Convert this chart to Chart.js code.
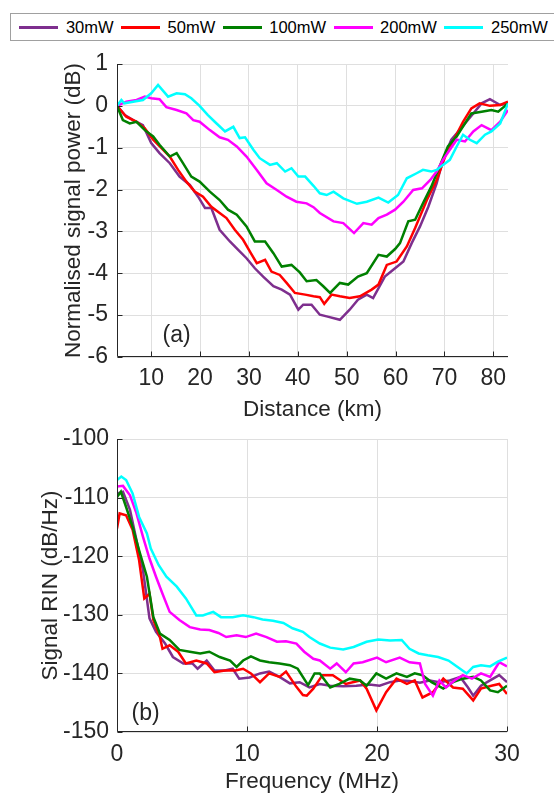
<!DOCTYPE html>
<html>
<head>
<meta charset="utf-8">
<script src="https://cdn.jsdelivr.net/npm/chart.js@4.4.1/dist/chart.umd.min.js"></script>
<style>
  html, body { margin: 0; padding: 0; background: #fff; }
  body { width: 554px; height: 794px; overflow: hidden; position: relative;
         font-family: 'Liberation Sans', Arial, sans-serif; }
  #legend { position: absolute; left: 10px; top: 13px; width: 600px; height: 28px;
            box-sizing: border-box; border: 1px solid #a0a0a0; background: #fff;
            display: flex; align-items: center; padding-left: 8.4px; }
  #legend .sw { display: inline-block; width: 39px; height: 3px; margin-right: 7.5px; }
  #legend .lb { font-size: 16.5px; color: #000; margin-right: 7.5px; white-space: nowrap; }
  #boxA { position: absolute; left: 0; top: 40px; width: 554px; height: 390px; }
  #boxB { position: absolute; left: 0; top: 410px; width: 554px; height: 400px; }
</style>
</head>
<body>
<div id="legend"></div>
<div id="boxA"><canvas id="chartA"></canvas></div>
<div id="boxB"><canvas id="chartB"></canvas></div>
<script>
// series shared by both panels
const seriesNames = ['30mW', '50mW', '100mW', '200mW', '250mW'];
const seriesColors = ['#7E2F8E', '#FF0000', '#008000', '#FF00FF', '#00FFFF'];

// (a) normalised signal power vs distance
const distTicks = [10, 20, 30, 40, 50, 60, 70, 80];
const powerTicks = [-6, -5, -4, -3, -2, -1, 0, 1];

const dist30 = [3, 4.6, 6.3, 8.3, 10, 11.7, 13.8, 15.8, 17.9, 19.6, 21, 22.3, 24, 26.1, 27.8, 29.5, 31.2, 32.9, 35, 36.7, 38.4, 40.1, 41.1, 42.8, 44.5, 45.9, 48.6, 50.6, 52.3, 54.1, 55.4, 57.8, 59.9, 61.6, 63.3, 65, 66.7, 68.4, 69.7, 71.4, 73.1, 74.5, 76.2, 77.6, 79.3, 81.4, 83];
const power30 = [0, -0.22, -0.34, -0.46, -0.89, -1.13, -1.37, -1.69, -1.89, -2.17, -2.44, -2.44, -2.96, -3.24, -3.44, -3.64, -3.88, -4.08, -4.31, -4.39, -4.51, -4.87, -4.75, -4.75, -4.99, -5.03, -5.11, -4.87, -4.63, -4.51, -4.59, -4.08, -3.88, -3.72, -3.28, -2.88, -2.41, -1.85, -1.29, -0.81, -0.58, -0.38, -0.14, 0.06, 0.16, 0.02, 0.06];

const dist50 = [3, 4.9, 7, 8.7, 10.4, 12.1, 13.8, 15.5, 17.2, 18.9, 20.6, 22.3, 24, 25.4, 27.1, 28.8, 30.2, 31.6, 33.3, 34.6, 36.3, 37.7, 39.4, 41.5, 43.2, 44.5, 45.4, 46.9, 48.6, 50.6, 52.7, 55.1, 56.5, 58.2, 60.2, 62.3, 64, 66.4, 68.4, 70.4, 72.1, 73.8, 75.5, 77.2, 79.3, 81.4, 83];
const power50 = [0, -0.26, -0.38, -0.54, -0.81, -1.01, -1.21, -1.53, -1.81, -2.05, -2.17, -2.41, -2.56, -2.68, -2.96, -3.2, -3.48, -3.76, -3.68, -3.96, -4.04, -4.23, -4.47, -4.51, -4.55, -4.57, -4.73, -4.51, -4.55, -4.59, -4.55, -4.39, -4.27, -3.8, -3.72, -3.36, -2.92, -2.25, -1.77, -1.13, -0.77, -0.38, -0.06, 0.06, 0, 0.02, 0.1];

const dist100 = [3, 4.2, 5.6, 7, 8.7, 10.4, 11.7, 13.8, 15.2, 16.5, 18.2, 19.9, 22, 24, 25.7, 27.5, 29.5, 31.2, 33.3, 35, 36.7, 38.7, 40.4, 41.8, 43.8, 45.2, 46.6, 48.6, 50.3, 52.3, 54.1, 56.5, 58.2, 59.9, 60.9, 62.6, 64, 65.6, 67.3, 69, 70.7, 72.5, 74.2, 75.5, 77.6, 79.6, 81, 83];
const power100 = [0, -0.34, -0.42, -0.38, -0.58, -0.73, -0.93, -1.21, -1.13, -1.37, -1.69, -1.81, -2.05, -2.25, -2.48, -2.6, -2.88, -3.24, -3.24, -3.52, -3.84, -3.8, -3.98, -4.19, -4.16, -4.31, -4.47, -4.23, -4.27, -4.08, -4.0, -3.56, -3.6, -3.42, -3.28, -2.76, -2.72, -2.33, -1.93, -1.45, -0.97, -0.73, -0.42, -0.18, -0.14, -0.1, -0.14, 0.06];

const dist200 = [3, 4.9, 7, 8.7, 10, 11.7, 13.1, 15.2, 17.2, 18.6, 19.9, 22, 24, 25.7, 27.5, 29.5, 31.6, 33.6, 35.7, 37.7, 39.7, 41.8, 43.2, 44.5, 47.3, 49.3, 51.5, 53.4, 55.1, 56.5, 58.2, 59.9, 61.6, 63.6, 65.4, 67.1, 68.4, 69.7, 71.1, 72.5, 74.2, 75.9, 77.6, 79.6, 81.4, 83];
const power200 = [0, 0.1, 0.14, 0.22, 0.18, 0.16, -0.03, -0.1, -0.18, -0.34, -0.38, -0.58, -0.75, -0.81, -0.97, -1.21, -1.53, -1.85, -2.01, -2.17, -2.29, -2.33, -2.42, -2.56, -2.76, -2.8, -3.04, -2.8, -2.84, -2.68, -2.6, -2.48, -2.29, -2.01, -1.97, -1.77, -1.57, -1.29, -1.05, -0.81, -0.85, -0.61, -0.46, -0.58, -0.38, -0.1];

const dist250 = [3, 3.9, 4.5, 6.3, 8.3, 10, 11.4, 13.45, 15.2, 16.9, 18.2, 19.9, 21.6, 23, 25.1, 26.8, 28.1, 29.2, 30.9, 32.2, 34.3, 35.7, 37.4, 38.7, 40.1, 41.5, 43.2, 44.5, 45.9, 47.3, 49.3, 52.1, 54.1, 56.5, 58.5, 60.5, 62.3, 64.3, 65.6, 67.3, 68.4, 69.7, 71.1, 72.5, 73.8, 75.2, 76.6, 78.3, 79.6, 81.4, 83];
const power250 = [0, 0.14, 0.06, 0.1, 0.14, 0.3, 0.5, 0.22, 0.3, 0.28, 0.18, 0, -0.22, -0.38, -0.61, -0.5, -0.77, -0.75, -1.05, -1.25, -1.41, -1.37, -1.57, -1.49, -1.69, -1.69, -1.91, -2.09, -2.13, -2.05, -2.21, -2.34, -2.29, -2.19, -2.31, -2.13, -1.73, -1.61, -1.53, -1.57, -1.53, -1.41, -1.29, -0.97, -0.69, -0.81, -0.89, -0.69, -0.61, -0.42, 0.06];

// (b) signal RIN vs frequency
const freqTicks = [0, 10, 20, 30];
const rinTicks = [-150, -140, -130, -120, -110, -100];

const freq30 = [0, 0.46, 1, 1.5, 2, 2.5, 3, 3.7, 4.3, 5.1, 5.8, 6.2, 6.9, 7.5, 8.3, 8.9, 9.4, 10.2, 11, 11.7, 12.5, 13.3, 14.05, 14.8, 15.6, 16.4, 17.4, 18.4, 19.4, 20.2, 21, 21.75, 22.5, 23.3, 24.05, 24.8, 25.6, 26.4, 27, 27.4, 28, 28.7, 29.4, 30];
const rin30 = [-109.3, -109, -112.1, -117.3, -122.4, -130.6, -132.9, -134.9, -137.2, -138.3, -138.3, -139.2, -137.8, -139.5, -139.5, -139.2, -140.9, -140.7, -140, -139.7, -140.6, -141.7, -141.5, -142.4, -141.8, -142.1, -142.2, -142.1, -141.9, -142.1, -141.5, -141.2, -141.3, -141.6, -141.2, -141.5, -141.2, -140.6, -142.4, -143.8, -142.1, -141.2, -140.3, -141.5];

const freq50 = [0, 0.2, 0.7, 1.2, 1.7, 2.1, 2.5, 2.8, 3.3, 3.5, 4.05, 4.7, 5.3, 6.1, 6.9, 7.5, 8.3, 9.1, 9.7, 10.3, 11, 11.7, 12.5, 13, 13.8, 14.3, 14.6, 15.1, 15.8, 16.6, 17.6, 18.7, 19.2, 19.95, 20.7, 21.5, 22.3, 22.9, 23.5, 24.3, 25.1, 25.85, 26.6, 27.4, 28, 28.8, 29.4, 30];
const rin50 = [-115.3, -112.7, -113, -115.5, -120.7, -127.2, -126.4, -130.9, -133.8, -135.8, -135.2, -136.3, -138.3, -137.8, -138.3, -139.8, -139.5, -139.5, -139.2, -140, -141.5, -140, -140.6, -139.7, -142.3, -143.7, -143.8, -142.6, -140.3, -140.3, -141.8, -141.2, -142.6, -146.3, -143.2, -140.9, -141.8, -141.2, -144.1, -143.2, -140.9, -142.4, -142.6, -144.6, -142.6, -142.1, -141.8, -143.5];

const freq100 = [0, 0.3, 0.7, 1.2, 1.7, 2.3, 2.8, 3.3, 4.05, 4.8, 5.6, 6.4, 7.1, 7.9, 8.7, 9.2, 9.7, 10.3, 11, 11.7, 12.5, 13.3, 13.9, 14.7, 15.2, 15.6, 16.4, 17.1, 17.9, 18.7, 19.2, 19.95, 20.7, 21.5, 22.3, 22.9, 23.5, 24.2, 25.1, 25.85, 26.6, 27.4, 28, 28.7, 29.3, 30];
const rin100 = [-109.9, -109, -111.6, -115, -119, -123.5, -130.4, -133.2, -134.3, -136, -136.3, -136.6, -136.3, -137.2, -137.8, -138.9, -137.8, -137.1, -137.8, -138.1, -138.3, -138.6, -139.2, -142, -140, -140, -142.4, -141.8, -140.9, -141.2, -142.1, -140, -140.9, -140, -140.6, -140, -140.3, -141.5, -142.6, -141.5, -140.9, -140.6, -141.2, -142.9, -143.2, -142.1];

const freq200 = [0, 0.46, 1, 1.5, 2, 2.5, 3, 3.5, 4.05, 4.8, 5.6, 6.4, 7.1, 7.8, 8.4, 9.2, 9.9, 10.7, 11.5, 12.3, 13, 13.8, 14.4, 15.1, 15.6, 16.4, 16.9, 17.6, 18.2, 18.9, 20, 20.7, 21.75, 22.5, 23.3, 23.7, 24.3, 24.8, 25.3, 25.97, 26.6, 27.3, 28, 28.7, 29.4, 30];
const rin200 = [-108.1, -108, -109.6, -112.7, -116.7, -120.4, -123.5, -126.4, -129.5, -130.9, -132.1, -132.5, -132.6, -133.1, -133.8, -133.5, -133.8, -133.2, -133.8, -134.6, -134.5, -134.9, -136.3, -137.5, -137.8, -139.2, -138.3, -139.8, -138.3, -138.1, -137.3, -138.1, -137.3, -138.1, -138.3, -141.8, -143.8, -141.2, -142.4, -141.2, -140.3, -140.9, -140, -140.6, -138.1, -138.8];

const freq250 = [0, 0.33, 0.7, 1.2, 1.7, 2.3, 2.6, 3.2, 3.8, 4.6, 5.3, 6.1, 6.6, 7.4, 8, 8.9, 9.7, 10.5, 11.2, 12, 12.8, 13.5, 14.3, 14.8, 15.6, 16.4, 17.4, 18.2, 19.2, 20.1, 21, 21.9, 22.5, 23.2, 23.9, 24.7, 25.5, 26.2, 26.9, 27.4, 28, 28.7, 29.3, 30];
const rin250 = [-107, -106.4, -107, -109.3, -113.3, -116.1, -118.7, -121.5, -123.5, -125.2, -127.2, -130.1, -130.1, -129.5, -130.4, -130.4, -130.1, -130.4, -130.8, -131, -131.4, -132.3, -132.9, -133.8, -134.9, -135.6, -135.9, -135.5, -134.6, -134.2, -134.4, -134.3, -135.8, -136.6, -136.9, -137.2, -137.8, -138.9, -140, -138.9, -138.6, -138.8, -138, -137.3];

const axisInk = '#262626';
const gridInk = '#dfdfdf';
const fontFamily = "'Liberation Sans', Arial, sans-serif";
Chart.defaults.font.family = fontFamily;
Chart.defaults.color = axisInk;

// html legend on top, like the matlab one
const legendEl = document.getElementById('legend');
seriesNames.forEach((name, i) => {
  const sw = document.createElement('span');
  sw.className = 'sw';
  sw.style.background = seriesColors[i];
  const lb = document.createElement('span');
  lb.className = 'lb';
  lb.textContent = name;
  legendEl.appendChild(sw);
  legendEl.appendChild(lb);
});

function makeSets(xs, ys) {
  return seriesNames.map((name, i) => ({
    label: name,
    data: xs[i].map((x, k) => ({ x: x, y: ys[i][k] })),
    borderColor: seriesColors[i],
    borderWidth: 2.5,
    pointRadius: 0,
    fill: false,
    tension: 0,
    order: seriesNames.length - i   // last series drawn on top
  }));
}

// matlab style: inward ticks, axis lines only left and bottom
const inwardTicks = {
  id: 'inwardTicks',
  afterDatasetsDraw(chart) {
    const { ctx, chartArea: a, scales: { x, y } } = chart;
    const L = Math.round(a.left) + 0.5, B = Math.round(a.bottom) - 0.5;
    ctx.save();
    ctx.strokeStyle = axisInk;
    ctx.lineWidth = 1;
    ctx.beginPath();
    x.ticks.forEach(t => {
      const px = Math.round(x.getPixelForValue(t.value)) + 0.5;
      ctx.moveTo(px, B); ctx.lineTo(px, B - 5);
    });
    y.ticks.forEach(t => {
      const py = Math.round(y.getPixelForValue(t.value)) + 0.5;
      ctx.moveTo(L, py); ctx.lineTo(L + 5, py);
    });
    ctx.moveTo(L, Math.round(a.top));
    ctx.lineTo(L, B);
    ctx.lineTo(Math.round(a.right), B);
    ctx.stroke();
    ctx.restore();
  }
};

// the (a) / (b) tag inside each panel
const panelTag = {
  id: 'panelTag',
  afterDatasetsDraw(chart, args, opts) {
    const { ctx, scales: { x, y } } = chart;
    ctx.save();
    ctx.font = '23px ' + fontFamily;
    ctx.fillStyle = axisInk;
    ctx.textAlign = 'center';
    ctx.textBaseline = 'middle';
    ctx.fillText(opts.text, x.getPixelForValue(opts.x), y.getPixelForValue(opts.y));
    ctx.restore();
  }
};

function makeChart(canvasId, sets, cfg) {
  return new Chart(document.getElementById(canvasId), {
    type: 'line',
    data: { datasets: sets },
    plugins: [inwardTicks, panelTag],
    options: {
      responsive: true,
      maintainAspectRatio: false,
      animation: false,
      layout: { padding: cfg.pad },
      plugins: {
        legend: { display: false },
        tooltip: { enabled: false },
        panelTag: cfg.tag
      },
      scales: {
        x: {
          type: 'linear',
          min: cfg.xMin, max: cfg.xMax,
          afterBuildTicks: s => { s.ticks = cfg.xTicks.map(v => ({ value: v })); },
          afterFit: s => { s.height = cfg.xHeight; },
          grid: { color: gridInk, drawTicks: false },
          border: { display: false },
          ticks: { padding: cfg.xTickPad, font: { size: 23 }, color: axisInk, maxRotation: 0 },
          title: { display: true, text: cfg.xTitle, font: { size: 22.5 }, color: axisInk,
                   padding: { top: 0, bottom: cfg.xTitlePad } }
        },
        y: {
          type: 'linear',
          min: cfg.yMin, max: cfg.yMax,
          afterBuildTicks: s => { s.ticks = cfg.yTicks.map(v => ({ value: v })); },
          afterFit: s => { s.width = 117; },
          grid: { color: gridInk, drawTicks: false },
          border: { display: false },
          ticks: { padding: cfg.yTickPad, font: { size: 23 }, color: axisInk },
          title: { display: true, text: cfg.yTitle, font: { size: 22.5 }, color: axisInk,
                   padding: { top: cfg.yTitlePad, bottom: 0 } }
        }
      }
    }
  });
}

makeChart('chartA',
  makeSets([dist30, dist50, dist100, dist200, dist250],
           [power30, power50, power100, power200, power250]),
  {
    pad: { top: 24, right: 46, bottom: 0, left: 0 },
    xMin: 3, xMax: 83, xTicks: distTicks, xHeight: 73, xTickPad: 8, xTitlePad: 7,
    xTitle: 'Distance (km)',
    yMin: -6, yMax: 1, yTicks: powerTicks, yTickPad: 9, yTitlePad: 60,
    yTitle: 'Normalised signal power (dB)',
    tag: { text: '(a)', x: 15.2, y: -5.5 }
  });

makeChart('chartB',
  makeSets([freq30, freq50, freq100, freq200, freq250],
           [rin30, rin50, rin100, rin200, rin250]),
  {
    pad: { top: 29, right: 47, bottom: 0, left: 0 },
    xMin: 0, xMax: 30, xTicks: freqTicks, xHeight: 78, xTickPad: 9, xTitlePad: 15,
    xTitle: 'Frequency (MHz)',
    yMin: -150, yMax: -100, yTicks: rinTicks, yTickPad: 8, yTitlePad: 37,
    yTitle: 'Signal RIN (dB/Hz)',
    tag: { text: '(b)', x: 2.2, y: -146.8 }
  });
</script>
</body>
</html>
